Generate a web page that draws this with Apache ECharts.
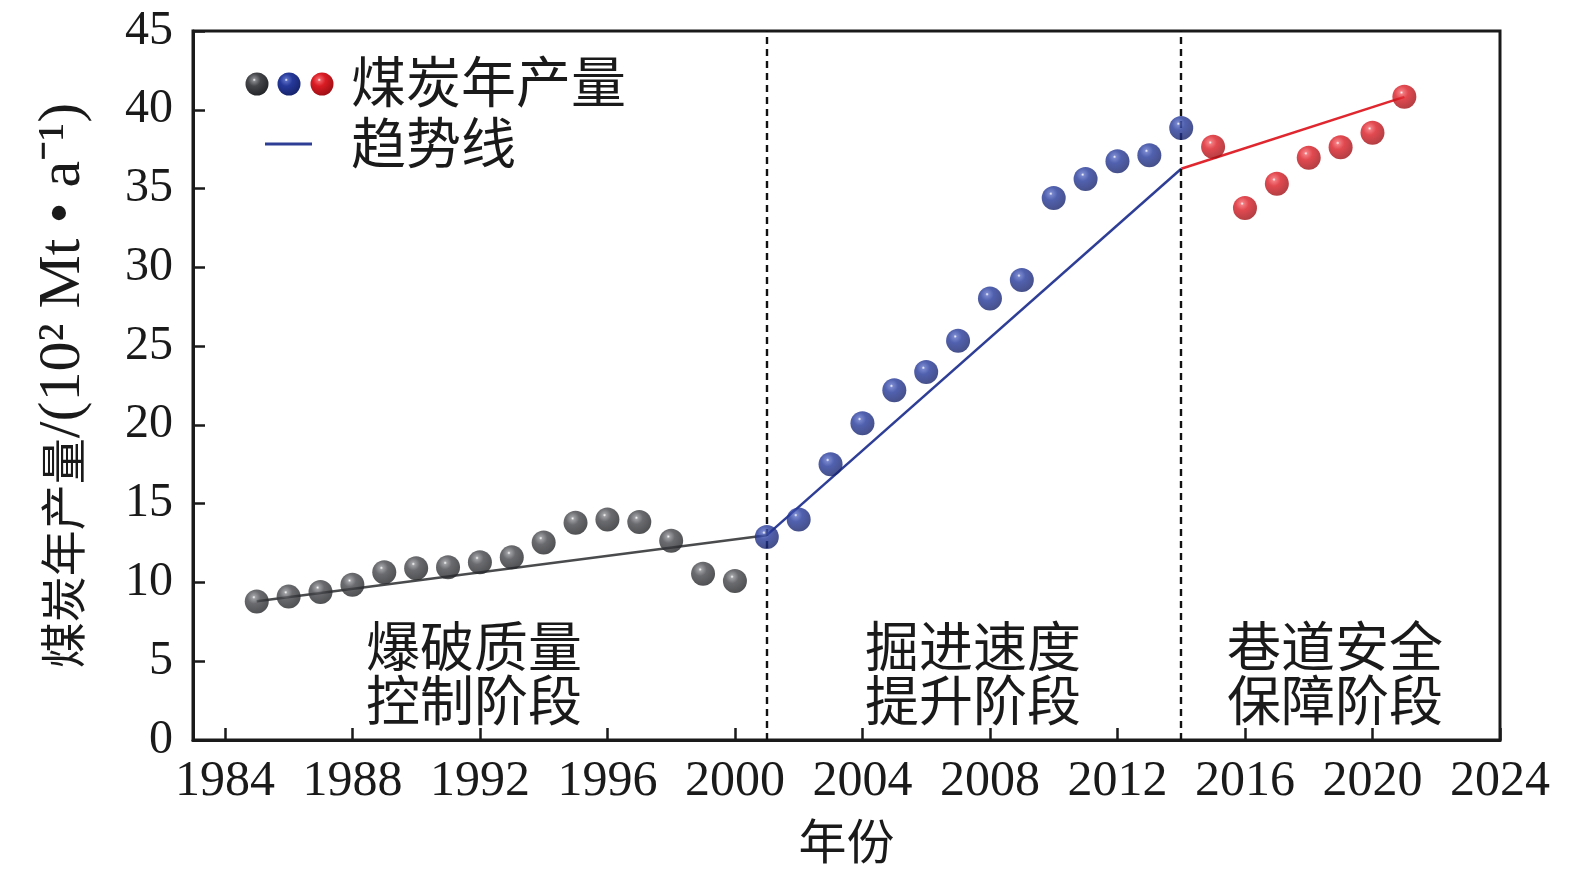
<!DOCTYPE html>
<html><head><meta charset="utf-8">
<script src="https://cdn.jsdelivr.net/npm/echarts@6/dist/echarts.min.js"></script>
<style>html,body{margin:0;padding:0;background:#fff}#c{width:1575px;height:875px}</style>
</head><body><div id="c"></div>
<script>
const yearsStage1 = [1985,1986,1987,1988,1989,1990,1991,1992,1993,1994,1995,1996,1997,1998,1999,2000];
const valuesStage1 = [8.79,9.1,9.4,9.85,10.65,10.9,10.97,11.28,11.6,12.54,13.79,14.0,13.83,12.64,10.55,10.09];
const yearsStage2 = [2001,2002,2003,2004,2005,2006,2007,2008,2009,2010,2011,2012,2013,2014];
const valuesStage2 = [12.89,14.0,17.5,20.1,22.2,23.35,25.34,28.02,29.2,34.4,35.61,36.74,37.12,38.84];
const yearsStage3 = [2015,2016,2017,2018,2019,2020,2021];
const valuesStage3 = [37.65,33.77,35.3,36.96,37.62,38.54,40.82];
const trend1 = [[1985,8.8],[2001,13.0]];
const trend2 = [[2001,13.0],[2014,36.26]];
const trend3 = [[2014,36.26],[2021,40.82]];
const stageBoundaries = [2001, 2014];
const xTicks = [1984,1988,1992,1996,2000,2004,2008,2012,2016,2020,2024];
const stageNames = ['爆破质量\n控制阶段','掘进速度\n提升阶段','巷道安全\n保障阶段'];
const legendNames = ['煤炭年产量','趋势线'];
const yNameCJK = '煤炭年产量';
const yNameUnit = '/(10² Mt • a⁻¹)';
const xName = '年份';

const FONT = "'Liberation Serif', 'Noto Sans CJK SC', serif";
function ball(c0, c1, c2){
  return new echarts.graphic.RadialGradient(0.38,0.32,0.72,[
    {offset:0,color:'#ffffff'},{offset:0.1,color:c0},{offset:0.38,color:c1},{offset:1,color:c2}]);
}
const grayBall = ()=>ball('#85868a','#45464a','#222326');
const blueBall = ()=>ball('#5568c0','#26399a','#16236a');
const redBall = ()=>ball('#f05a60','#da1c24','#9c0e14');
const zip = (xs, ys) => xs.map((x,i)=>[x, ys[i]]);

const chart = echarts.init(document.getElementById('c'));
chart.setOption({
  backgroundColor:'#fff',
  animation:false,
  grid:{left:193,right:75,top:31,bottom:128,show:true,borderColor:'#1a1a1a',borderWidth:3,backgroundColor:'transparent'},
  xAxis:{type:'value',min:1983,max:2024,
    name:xName,nameLocation:'middle',nameGap:82,nameTextStyle:{fontFamily:FONT,fontSize:48,color:'#1a1a1a'},
    axisLine:{show:true,lineStyle:{color:'#1a1a1a',width:3}},
    axisTick:{show:true,inside:true,length:12,lineStyle:{color:'#1a1a1a',width:2.5},customValues:xTicks},
    axisLabel:{fontFamily:FONT,fontSize:50,color:'#1a1a1a',margin:17,customValues:xTicks,formatter:v=>String(v)},
    splitLine:{show:false}},
  yAxis:{type:'value',min:0,max:45,interval:5,
    name:'{c|'+yNameCJK+'}{l|'+yNameUnit+'}',nameLocation:'middle',nameGap:100,nameRotate:90,
    nameTextStyle:{color:'#1a1a1a',rich:{
      c:{fontFamily:"'Noto Sans CJK SC', sans-serif",fontSize:46,color:'#1a1a1a'},
      l:{fontFamily:"'Liberation Serif', serif",fontSize:60,color:'#1a1a1a'}}},
    axisLine:{show:true,lineStyle:{color:'#1a1a1a',width:3}},
    axisTick:{show:true,inside:true,length:12,lineStyle:{color:'#1a1a1a',width:2.5}},
    axisLabel:{fontFamily:FONT,fontSize:48,color:'#1a1a1a',margin:20,padding:[0,0,8,0],formatter:v=>String(v)},
    splitLine:{show:false}},
  series:[
    {type:'line',data:trend1,symbol:'none',lineStyle:{color:'#4a4b4d',width:2.5},z:2,silent:true},
    {type:'line',data:trend2,symbol:'none',lineStyle:{color:'#2e3e96',width:2.5},z:2,silent:true},
    {type:'line',data:trend3,symbol:'none',lineStyle:{color:'#e0262e',width:2.5},z:2,silent:true,
      markLine:{symbol:'none',silent:true,label:{show:false},lineStyle:{color:'#111',type:[7,5],width:2.4},
        data:stageBoundaries.map(v=>({xAxis:v}))}},
    {type:'scatter',data:zip(yearsStage1,valuesStage1),symbolSize:24,itemStyle:{color:grayBall()},z:5},
    {type:'scatter',data:zip(yearsStage2,valuesStage2),symbolSize:24,itemStyle:{color:blueBall()},z:5},
    {type:'scatter',data:zip(yearsStage3,valuesStage3),symbolSize:24,itemStyle:{color:redBall()},z:5}
  ],
  graphic:[
    {type:'circle',shape:{cx:257,cy:84,r:11.5},style:{fill:grayBall()}},
    {type:'circle',shape:{cx:289,cy:84,r:11.5},style:{fill:blueBall()}},
    {type:'circle',shape:{cx:322,cy:84,r:11.5},style:{fill:redBall()}},
    {type:'text',left:351,top:60,style:{text:legendNames[0],font:"55px "+FONT,fill:'#1a1a1a'}},
    {type:'line',shape:{x1:265,y1:144,x2:312,y2:144},style:{stroke:'#2e3e96',lineWidth:3}},
    {type:'text',left:351,top:121,style:{text:legendNames[1],font:"55px "+FONT,fill:'#1a1a1a'}},
    {type:'text',x:474,y:680,style:{text:stageNames[0],font:"54px "+FONT,fill:'#1a1a1a',align:'center',verticalAlign:'middle',lineHeight:54}},
    {type:'text',x:973,y:680,style:{text:stageNames[1],font:"54px "+FONT,fill:'#1a1a1a',align:'center',verticalAlign:'middle',lineHeight:54}},
    {type:'text',x:1335,y:680,style:{text:stageNames[2],font:"54px "+FONT,fill:'#1a1a1a',align:'center',verticalAlign:'middle',lineHeight:54}}
  ]
});
</script></body></html>
